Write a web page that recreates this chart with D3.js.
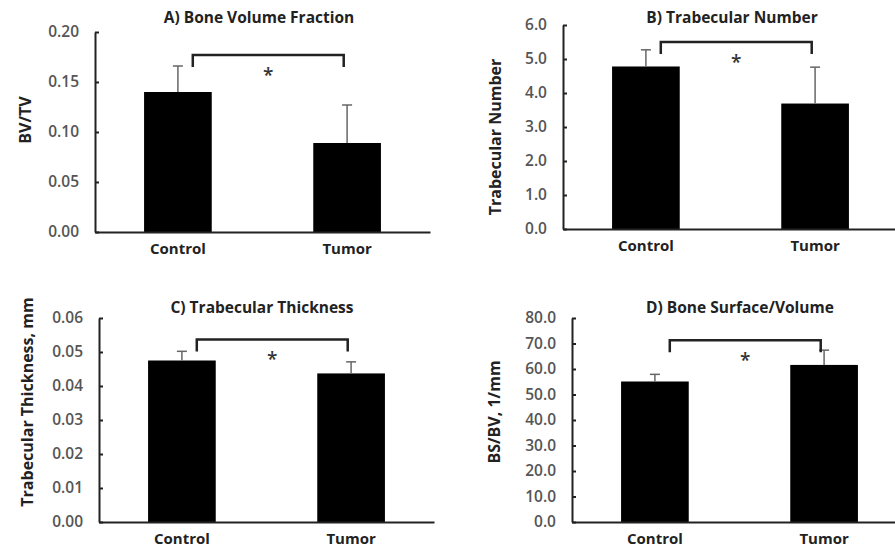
<!DOCTYPE html>
<html>
<head>
<meta charset="utf-8">
<script src="https://cdn.jsdelivr.net/npm/d3@7"></script>
<style>
  body { margin: 0; background: #fff; }
  svg { display: block; font-family: "Open Sans", "DejaVu Sans", sans-serif; }
  .title, .ylabel, .xlabel { font-weight: bold; fill: #222; }
</style>
</head>
<body>
<div id="chart"></div>
<script>
// data
var groups = ["Control", "Tumor"];
var panelTitles = ["A) Bone Volume Fraction", "B) Trabecular Number", "C) Trabecular Thickness", "D) Bone Surface/Volume"];
var yLabels = ["BV/TV", "Trabecular Number", "Trabecular Thickness, mm", "BS/BV, 1/mm"];
var means = [[0.140, 0.089], [4.78, 3.69], [0.0475, 0.0437], [55.1, 61.6]];
var errUp = [[0.026, 0.038], [0.49, 1.07], [0.0027, 0.0034], [2.8, 5.8]];
var bracketAt = [0.177, 5.5, 0.0537, 71.3];
var yMax = [0.20, 6.0, 0.06, 80];
var yStep = [0.05, 1.0, 0.01, 10];
var tickFormats = [".2f", ".1f", ".2f", ".1f"];

// where each panel sits on the page
var layout = [
  {left: 95,  top: 32,  bottom: 232, titleX: 259, titleY: 23,  labelX: 25,  labelY: 120},
  {left: 563, top: 25,  bottom: 229, titleX: 732, titleY: 23,  labelX: 495, labelY: 137},
  {left: 99,  top: 318, bottom: 522, titleX: 262, titleY: 313, labelX: 27,  labelY: 402},
  {left: 572, top: 318, bottom: 522, titleX: 740, titleY: 313, labelX: 494, labelY: 412}
];
var axisLen = 335;

var svg = d3.select("#chart").append("svg")
    .attr("width", 895)
    .attr("height", 551);

layout.forEach(function(p, i) {
    var g = svg.append("g").attr("class", "panel");

    var x = d3.scaleBand()
        .domain(groups)
        .range([p.left, p.left + axisLen])
        .paddingInner(0.6)
        .paddingOuter(0.29);

    var y = d3.scaleLinear()
        .domain([0, yMax[i]])
        .range([p.bottom, p.top]);

    var ticks = d3.range(0, yMax[i] + yStep[i] / 2, yStep[i]);

    // y axis, ticks point inward
    var yAxis = g.append("g")
        .attr("transform", "translate(" + p.left + ",0)")
        .call(d3.axisLeft(y).tickValues(ticks).tickFormat(d3.format(tickFormats[i])).tickSizeInner(-4).tickSizeOuter(0).tickPadding(16));
    yAxis.select(".domain").attr("stroke", "#222").attr("stroke-width", 2);
    yAxis.selectAll(".tick line").attr("stroke", "#222").attr("stroke-width", 2);
    yAxis.selectAll(".tick text")
        .attr("font-family", "Open Sans")
        .attr("font-size", 15.5)
        .attr("font-weight", 600)
        .attr("fill", "#555");

    // bars
    g.selectAll(".bar")
        .data(groups)
        .enter().append("rect")
        .attr("class", "bar")
        .attr("x", function(d) { return x(d); })
        .attr("y", function(d, j) { return y(means[i][j]); })
        .attr("width", x.bandwidth())
        .attr("height", function(d, j) { return p.bottom - y(means[i][j]); })
        .attr("fill", "#000");

    // upper error bars
    var eb = g.selectAll(".err")
        .data(groups)
        .enter().append("g")
        .attr("class", "err")
        .attr("stroke", "#666")
        .attr("stroke-width", 1.5);
    eb.append("line")
        .attr("x1", function(d) { return x(d) + x.bandwidth() / 2; })
        .attr("x2", function(d) { return x(d) + x.bandwidth() / 2; })
        .attr("y1", function(d, j) { return y(means[i][j]); })
        .attr("y2", function(d, j) { return y(means[i][j] + errUp[i][j]); });
    eb.append("line")
        .attr("x1", function(d) { return x(d) + x.bandwidth() / 2 - 5; })
        .attr("x2", function(d) { return x(d) + x.bandwidth() / 2 + 5; })
        .attr("y1", function(d, j) { return y(means[i][j] + errUp[i][j]); })
        .attr("y2", function(d, j) { return y(means[i][j] + errUp[i][j]); });

    // x axis
    var xAxis = g.append("g")
        .attr("transform", "translate(0," + p.bottom + ")")
        .call(d3.axisBottom(x).tickSize(0).tickPadding(11));
    xAxis.select(".domain").attr("stroke", "#222").attr("stroke-width", 2);
    xAxis.selectAll(".tick text")
        .attr("class", "xlabel")
        .attr("font-family", "Open Sans")
        .attr("font-size", 15)
        .attr("font-weight", "bold")
        .attr("fill", "#333");

    // significance bracket
    var cx0 = x(groups[0]) + x.bandwidth() * 0.72;
    var cx1 = x(groups[1]) + x.bandwidth() * 0.45;
    var by = y(bracketAt[i]);
    g.append("path")
        .attr("d", "M" + cx0 + "," + (by + 12) + "V" + by + "H" + cx1 + "V" + (by + 12))
        .attr("fill", "none")
        .attr("stroke", "#222")
        .attr("stroke-width", 2.5);
    g.append("text")
        .attr("x", (cx0 + cx1) / 2)
        .attr("y", by + 27)
        .attr("text-anchor", "middle")
        .attr("font-size", 19)
        .attr("font-weight", 600)
        .attr("fill", "#333")
        .text("*");

    // titles and labels
    g.append("text")
        .attr("class", "title")
        .attr("x", p.titleX)
        .attr("y", p.titleY)
        .attr("text-anchor", "middle")
        .attr("font-size", 15.5)
        .text(panelTitles[i]);

    g.append("text")
        .attr("class", "ylabel")
        .attr("transform", "translate(" + p.labelX + "," + p.labelY + ") rotate(-90)")
        .attr("text-anchor", "middle")
        .attr("dy", "0.35em")
        .attr("font-size", 16)
        .text(yLabels[i]);
});
</script>
</body>
</html>
